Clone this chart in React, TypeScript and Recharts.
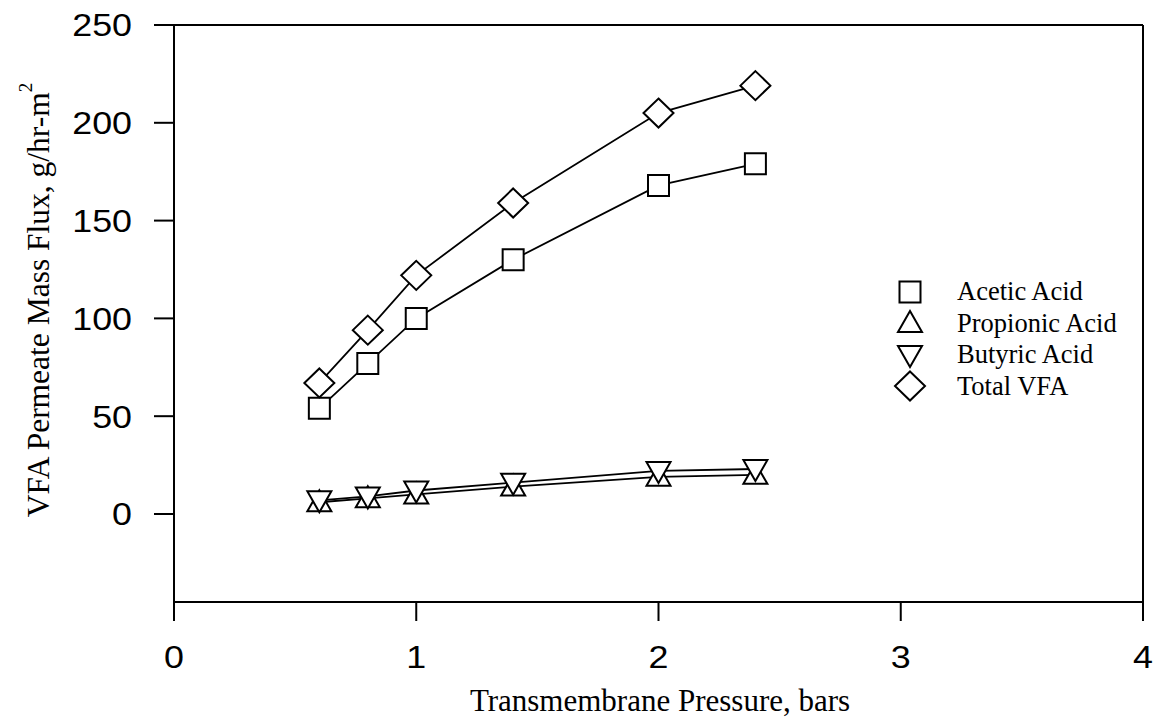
import React from "react";
import { LineChart, Line, XAxis, YAxis, ReferenceLine } from "recharts";

// transmembrane pressure, bars
const pressure = [0.6, 0.8, 1.0, 1.4, 2.0, 2.4];
// permeate mass flux, g/hr-m2
const acetic = [54, 77, 100, 130, 168, 179];
const propionic = [6, 8, 10, 14, 19, 20];
const butyric = [7, 9, 12, 16, 22, 23];
const totalVfa = [67, 94, 122, 159, 205, 219];

const xTicks = [0, 1, 2, 3, 4];
const yTicks = [0, 50, 100, 150, 200, 250];
const legendNames = ["Acetic Acid", "Propionic Acid", "Butyric Acid", "Total VFA"];

const data = pressure.map((p, i) => ({
    p,
    acetic: acetic[i],
    propionic: propionic[i],
    butyric: butyric[i],
    total: totalVfa[i],
}));

const SANS = "'Liberation Sans', Arial, Helvetica, sans-serif";
const SERIF = "'Liberation Serif', 'Times New Roman', Times, serif";

// marker shapes, open with white fill
const shapePath = (kind: string, cx: number, cy: number) => {
    if (kind === "square") {
        const h = 10.5;
        return `M${cx - h},${cy - h}H${cx + h}V${cy + h}H${cx - h}Z`;
    }
    if (kind === "up") {
        return `M${cx},${cy - 12}L${cx + 12},${cy + 9}L${cx - 12},${cy + 9}Z`;
    }
    if (kind === "down") {
        return `M${cx},${cy + 12}L${cx + 12},${cy - 9}L${cx - 12},${cy - 9}Z`;
    }
    return `M${cx},${cy - 14.5}L${cx + 15},${cy}L${cx},${cy + 14.5}L${cx - 15},${cy}Z`;
};

const makeDot = (kind: string) => (props: any) => {
    const { cx, cy, index } = props;
    if (cx == null || cy == null) return <g key={`${kind}-${index}`} />;
    return (
        <path
            key={`${kind}-${index}`}
            d={shapePath(kind, cx, cy)}
            fill="#fff"
            stroke="#000"
            strokeWidth={2}
        />
    );
};

const legendKinds = ["square", "up", "down", "diamond"];

// tick labels in the scan are a little wider than plain Helvetica
const XTick = ({ x, y, payload }: any) => (
    <text
        transform={`translate(${x},${y}) scale(1.12,1)`}
        textAnchor="middle"
        dy="0.71em"
        fontFamily={SANS}
        fontSize={32}
        fill="#000"
    >
        {payload.value}
    </text>
);

const YTick = ({ x, y, payload }: any) => (
    <text
        transform={`translate(${x},${y}) scale(1.12,1)`}
        textAnchor="end"
        dy="0.355em"
        fontFamily={SANS}
        fontSize={32}
        fill="#000"
    >
        {payload.value}
    </text>
);

const YTitle = () => (
    <text
        x={38}
        y={300}
        transform="rotate(-90 38 300)"
        textAnchor="middle"
        dominantBaseline="central"
        fontFamily={SERIF}
        fontSize={31.5}
        fill="#000"
    >
        VFA Permeate Mass Flux, g/hr-m
        <tspan dy={-13} fontSize={19}>2</tspan>
    </text>
);

const XTitle = () => (
    <text
        x={660}
        y={700}
        textAnchor="middle"
        dominantBaseline="central"
        fontFamily={SERIF}
        fontSize={31}
        fill="#000"
    >
        Transmembrane Pressure, bars
    </text>
);

const App: React.FC = () => {
    return (
        <div style={{ position: "fixed", left: 0, top: 0, width: 1155, height: 721, background: "#fff" }}>
            <LineChart
                width={1155}
                height={721}
                data={data}
                margin={{ top: 25, right: 12, bottom: 59, left: 114 }}
            >
                <XAxis
                    type="number"
                    dataKey="p"
                    domain={[0, 4]}
                    ticks={xTicks}
                    height={60}
                    tickSize={19}
                    tickMargin={24}
                    axisLine={{ stroke: "#000", strokeWidth: 2 }}
                    tickLine={{ stroke: "#000", strokeWidth: 2 }}
                    tick={<XTick />}
                    label={<XTitle />}
                />
                <YAxis
                    type="number"
                    domain={[-45, 250]}
                    ticks={yTicks}
                    width={60}
                    tickSize={20}
                    tickMargin={22}
                    axisLine={{ stroke: "#000", strokeWidth: 2 }}
                    tickLine={{ stroke: "#000", strokeWidth: 2 }}
                    tick={<YTick />}
                    label={<YTitle />}
                />
                {/* box: top and right borders */}
                <ReferenceLine y={250} stroke="#000" strokeWidth={2} />
                <ReferenceLine x={4} stroke="#000" strokeWidth={2} />
                <Line dataKey="acetic" stroke="#000" strokeWidth={1.8} dot={makeDot("square")} isAnimationActive={false} />
                <Line dataKey="propionic" stroke="#000" strokeWidth={1.8} dot={makeDot("up")} isAnimationActive={false} />
                <Line dataKey="butyric" stroke="#000" strokeWidth={1.8} dot={makeDot("down")} isAnimationActive={false} />
                <Line dataKey="total" stroke="#000" strokeWidth={1.8} dot={makeDot("diamond")} isAnimationActive={false} />
            </LineChart>
            <div style={{ position: "absolute", left: 890, top: 276 }}>
                {legendNames.map((name, i) => (
                    <div key={name} style={{ display: "flex", alignItems: "center", height: 31.5 }}>
                        <svg width={40} height={32} style={{ display: "block" }}>
                            <path d={shapePath(legendKinds[i], 20, 16)} fill="#fff" stroke="#000" strokeWidth={2} />
                        </svg>
                        <span style={{ fontFamily: SERIF, fontSize: 26.5, marginLeft: 27, lineHeight: "31px" }}>{name}</span>
                    </div>
                ))}
            </div>
        </div>
    );
};

export default App;
